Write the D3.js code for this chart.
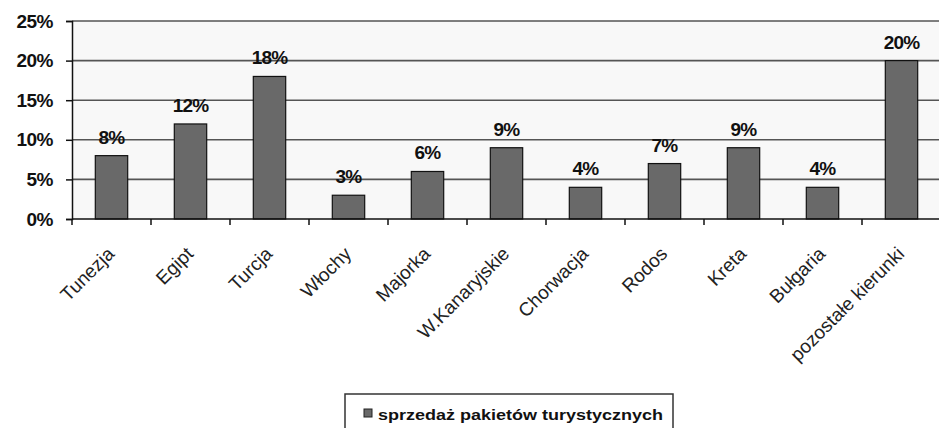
<!DOCTYPE html>
<html><head><meta charset="utf-8">
<script src="https://cdn.jsdelivr.net/npm/d3@7"></script>
<style>body{margin:0;background:#fff}svg{display:block}</style>
</head><body>
<script>
const categories = ["Tunezja","Egipt","Turcja","Włochy","Majorka","W.Kanaryjskie","Chorwacja","Rodos","Kreta","Bułgaria","pozostałe kierunki"];
const values = [8,12,18,3,6,9,4,7,9,4,20];
const yTicks = [0,5,10,15,20,25];
const seriesName = "sprzedaż pakietów turystycznych";

(function(){
const W=939,H=428;
const svg=d3.select("body").append("svg").attr("width",W).attr("height",H);
const pL=72,pR=941,pT=21,pB=219;
const x=d3.scaleBand().domain(categories).range([pL,pR]).padding(0);
const y=d3.scaleLinear().domain([0,25]).range([pB,pT]);

svg.append("rect").attr("x",pL).attr("y",pT).attr("width",W-pL).attr("height",pB-pT).attr("fill","#f8f8f8");

// gridlines
svg.append("g").selectAll("line").data(yTicks.filter(d=>d>0)).join("line")
  .attr("x1",pL).attr("x2",W).attr("y1",d=>y(d)).attr("y2",d=>y(d))
  .attr("stroke","#555").attr("stroke-width",1.6);

// bars
const bw=x.bandwidth()*0.41;
svg.append("g").selectAll("rect").data(values).join("rect")
  .attr("x",(d,i)=>x(categories[i])+x.bandwidth()/2-bw/2)
  .attr("y",d=>y(d)).attr("width",bw).attr("height",d=>y(0)-y(d))
  .attr("fill","#696969").attr("stroke","#111").attr("stroke-width",1.2);

// data labels
svg.append("g").selectAll("text").data(values).join("text")
  .attr("x",(d,i)=>x(categories[i])+x.bandwidth()/2)
  .attr("y",d=>y(d)-12)
  .attr("text-anchor","middle")
  .attr("font-family","Liberation Sans, Arial, sans-serif").attr("font-weight","bold")
  .attr("font-size",19).attr("letter-spacing",-0.8).attr("fill","#111")
  .text(d=>d+"%");

// y axis
const ya=d3.axisLeft(y).tickValues(yTicks).tickFormat(d=>d+"%").tickSize(6).tickPadding(13);
const gy=svg.append("g").attr("transform",`translate(${pL},0)`).call(ya);
gy.select(".domain").attr("stroke","#111").attr("stroke-width",1.5);
gy.selectAll(".tick line").attr("stroke","#111").attr("stroke-width",1.5);
gy.selectAll(".tick text").attr("font-family","Liberation Sans, Arial, sans-serif")
  .attr("font-weight","bold").attr("font-size",19).attr("letter-spacing",-0.5).attr("fill","#111");

// x axis line and ticks
svg.append("line").attr("x1",pL).attr("x2",W).attr("y1",pB).attr("y2",pB).attr("stroke","#111").attr("stroke-width",1.5);
svg.append("g").selectAll("line").data(categories).join("line")
  .attr("x1",d=>x(d)).attr("x2",d=>x(d)).attr("y1",pB).attr("y2",pB+6)
  .attr("stroke","#111").attr("stroke-width",1.5);

// x labels
svg.append("g").selectAll("text").data(categories).join("text")
  .attr("transform",d=>`translate(${x(d)+x.bandwidth()/2+4},${pB+36}) rotate(-45)`)
  .attr("text-anchor","end")
  .attr("font-family","Liberation Sans, Arial, sans-serif").attr("font-size",19).attr("fill","#222")
  .text(d=>d);

// legend
svg.append("rect").attr("x",345).attr("y",394).attr("width",328).attr("height",50)
  .attr("fill","#fff").attr("stroke","#333").attr("stroke-width",1.5);
svg.append("rect").attr("x",364).attr("y",409).attr("width",8).attr("height",8)
  .attr("fill","#696969").attr("stroke","#222").attr("stroke-width",1);
svg.append("text").attr("x",378).attr("y",420)
  .attr("font-family","Liberation Sans, Arial, sans-serif").attr("font-weight","bold")
  .attr("font-size",15).attr("textLength",285).attr("lengthAdjust","spacingAndGlyphs").attr("fill","#111")
  .text(seriesName);
})();
</script>
</body></html>
